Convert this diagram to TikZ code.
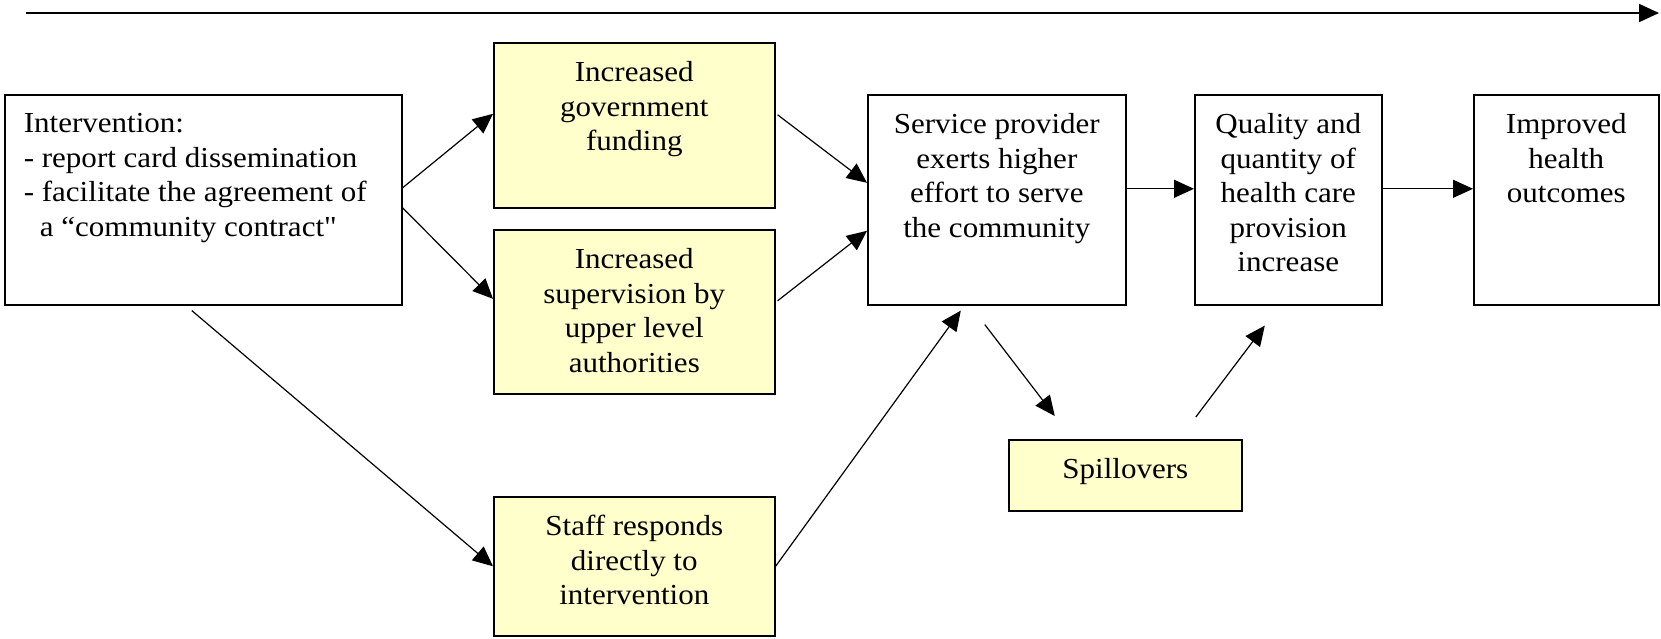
\documentclass[tikz,border=0pt]{standalone}
\usepackage{fontspec}
\setmainfont{Liberation Serif}[FakeStretch=1.07,Ligatures=TeXOff]
\usepackage{tikz}
\usetikzlibrary{arrows.meta}
\definecolor{boxyellow}{RGB}{255,255,204}
\tikzstyle{box}=[draw,line width=.8pt,inner sep=0pt,anchor=north west,font=\fontsize{14.5pt}{17.25pt}\selectfont]
\tikzstyle{yellowbox}=[box,fill=boxyellow]
\tikzstyle{arrhead}=[>/.tip={Triangle[length=10pt,width=9pt]}]
\tikzstyle{arr}=[line width=.6pt,arrhead,->]
\newcommand\boxtext[3]{\parbox[t][#2][t]{#1}{\centering\rule{0pt}{19.5pt}#3}}
\newcommand\boxlist[3]{\parbox[t][#2][t]{#1}{\raggedright\leftskip=9.5pt\rule{0pt}{19pt}#3}}

\begin{document}
\begin{tikzpicture}[x=.5pt,y=-.5pt]
	\useasboundingbox (0,0) rectangle (1661,638);
	% time line
	\coordinate (tstart) at (26,13);
	\coordinate (tend)   at (1659,13);
	\draw[arr,line width=1pt] (tstart) -- (tend);
	% boxes
	\node[box]       (intv)   at (4,94)     {\boxlist{198.5pt}{105pt}{Intervention:\\- report card dissemination\\- facilitate the agreement of\\\hspace*{8pt}a “community contract"}};
	\node[yellowbox] (fund)   at (493,42)   {\boxtext{140.5pt}{82.5pt}{Increased\\government\\funding}};
	\node[yellowbox] (superv) at (493,229)  {\boxtext{140.5pt}{82pt}{Increased\\supervision by\\upper level\\authorities}};
	\node[yellowbox] (staff)  at (493,496)  {\boxtext{140.5pt}{69.5pt}{Staff responds\\directly to\\intervention}};
	\node[box]       (serv)   at (867,94)   {\boxtext{129pt}{105pt}{Service provider\\exerts higher\\effort to serve\\the community}};
	\node[box]       (qual)   at (1194,94)  {\boxtext{93.5pt}{105pt}{Quality and\\quantity of\\health care\\provision\\increase}};
	\node[box]       (impr)   at (1473,94)  {\boxtext{92.5pt}{105pt}{Improved\\health\\outcomes}};
	\node[yellowbox] (spill)  at (1008,439) {\boxtext{116.5pt}{35.5pt}{Spillovers}};
	% arrows
	\draw[arr] ([shift={(0,-12)}]intv.east)    -- ([shift={(0,-11.5)}]fund.west);
	\draw[arr] ([shift={(0,8)}]intv.east)      -- ([shift={(0,-13)}]superv.west);
	\draw[arr] ([shift={(-11.5,5)}]intv.south) -- (staff.west);
	\draw[arr] ([shift={(2,-10.5)}]fund.east)  -- ([shift={(0,-17)}]serv.west);
	\draw[arr] ([shift={(2,-11)}]superv.east)  -- ([shift={(0,31)}]serv.west);
	\draw[arr] (staff.east)                    -- ([shift={(-36,5)}]serv.south);
	\draw[arr] ([shift={(0,-11)}]serv.east)    -- ([shift={(0,-11)}]qual.west);
	\draw[arr] ([shift={(0,-11)}]qual.east)    -- ([shift={(0,-11)}]impr.west);
	\draw[arr] ([shift={(-12,19)}]serv.south)  -- ([shift={(-70.5,-23)}]spill.north);
	\draw[arr] ([shift={(70.5,-22)}]spill.north) -- ([shift={(-23.5,20)}]qual.south);
\end{tikzpicture}
\end{document}
